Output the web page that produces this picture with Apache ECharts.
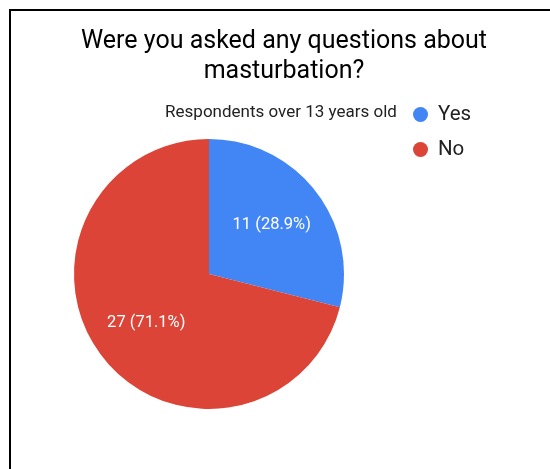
<!DOCTYPE html>
<html>
<head>
<meta charset="utf-8">
<script src="https://cdn.jsdelivr.net/npm/echarts@6/dist/echarts.min.js"></script>
<style>
  html, body { margin: 0; padding: 0; background: #fff; }
  #chart { width: 550px; height: 469px; }
</style>
</head>
<body>
<div id="chart"></div>
<script>
// Survey answers
const categories = ['Yes', 'No'];
const counts = [11, 27];
const colors = ['#4285F4', '#DB4437'];

const pieData = categories.map((name, i) => ({ name, value: counts[i] }));

const chart = echarts.init(document.getElementById('chart'), null, { renderer: 'canvas' });

chart.setOption({
  animation: false,
  color: colors,
  textStyle: { fontFamily: 'Roboto' },
  title: [
    {
      text: 'Were you asked any questions about\nmasturbation?',
      left: 279,
      top: 22,
      textAlign: 'center',
      textStyle: {
        fontFamily: 'Roboto',
        fontSize: 25,
        fontWeight: 'normal',
        color: '#000',
        lineHeight: 30
      }
    },
    {
      text: 'Respondents over 13 years old',
      left: 276,
      top: 99,
      textAlign: 'center',
      textStyle: {
        fontFamily: 'Roboto',
        fontSize: 17,
        fontWeight: 'normal',
        color: '#222'
      }
    }
  ],
  legend: {
    orient: 'vertical',
    left: 408,
    top: 99,
    icon: 'circle',
    itemWidth: 15,
    itemHeight: 15,
    itemGap: 14,
    data: categories,
    textStyle: {
      fontFamily: 'Roboto',
      fontSize: 20.5,
      color: '#222',
      padding: [0, 0, 0, 5]
    }
  },
  graphic: [
    { type: 'rect', shape: { x: 9, y: 9, width: 2, height: 460 }, style: { fill: '#000' } },
    { type: 'rect', shape: { x: 9, y: 9, width: 541, height: 2 }, style: { fill: '#000' } }
  ],
  series: [
    {
      type: 'pie',
      center: [209, 274],
      radius: [0, 135],
      startAngle: 90,
      clockwise: true,
      percentPrecision: 1,
      label: { show: false },
      labelLine: { show: false },
      emphasis: { disabled: true },
      data: pieData
    },
    {
      // transparent overlay that carries the in-slice value labels
      type: 'pie',
      center: [209, 274],
      radius: [18, 135],
      startAngle: 90,
      clockwise: true,
      silent: true,
      percentPrecision: 1,
      itemStyle: { color: 'rgba(0,0,0,0)' },
      label: {
        show: true,
        position: 'inside',
        formatter: '{c} ({d}%)',
        fontFamily: 'Roboto',
        fontSize: 16.5,
        color: '#fff'
      },
      labelLine: { show: false },
      emphasis: { disabled: true },
      data: pieData
    }
  ]
});
</script>
</body>
</html>
